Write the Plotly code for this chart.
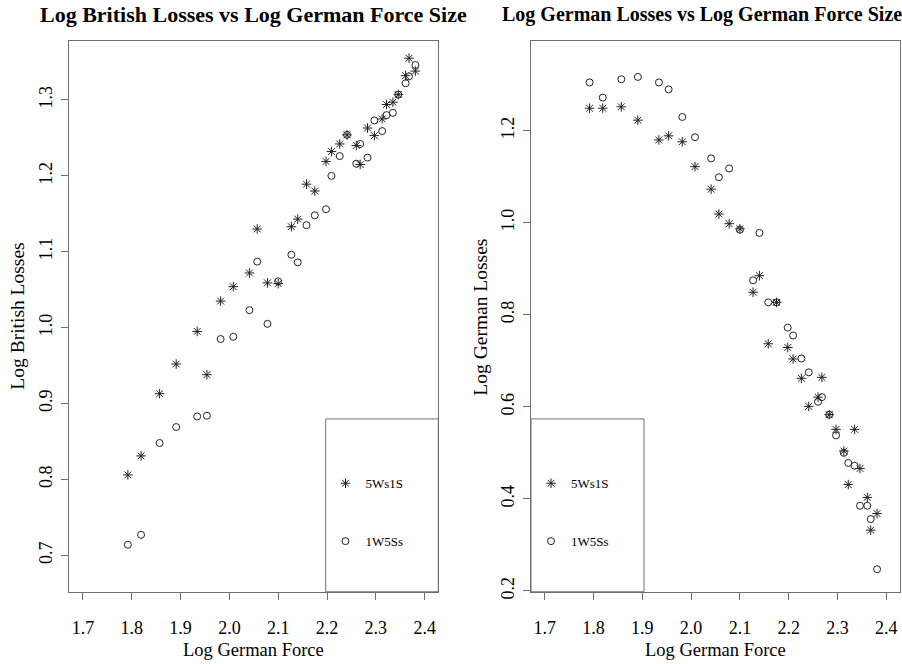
import plotly.graph_objects as go

# ---- data ----
german_force = [1.792, 1.819, 1.857, 1.891, 1.934, 1.954, 1.982, 2.008, 2.041, 2.057,
                2.078, 2.100, 2.127, 2.140, 2.158, 2.175, 2.198, 2.209, 2.226, 2.241,
                2.260, 2.268, 2.283, 2.297, 2.313, 2.322, 2.335, 2.346, 2.361, 2.368, 2.381]

british_5ws1s = [0.806, 0.831, 0.913, 0.952, 0.995, 0.938, 1.035, 1.054, 1.072, 1.130,
                 1.059, 1.058, 1.133, 1.143, 1.189, 1.180, 1.219, 1.232, 1.242, 1.254,
                 1.240, 1.215, 1.263, 1.253, 1.275, 1.294, 1.297, 1.307, 1.332, 1.355, 1.338]
british_1w5ss = [0.714, 0.727, 0.848, 0.869, 0.883, 0.884, 0.985, 0.988, 1.023, 1.087,
                 1.005, 1.061, 1.096, 1.086, 1.135, 1.148, 1.156, 1.200, 1.226, 1.254,
                 1.216, 1.242, 1.224, 1.273, 1.259, 1.280, 1.283, 1.307, 1.322, 1.331, 1.346]

german_5ws1s = [1.249, 1.249, 1.252, 1.223, 1.180, 1.189, 1.176, 1.122, 1.073, 1.019,
                0.998, 0.987, 0.849, 0.885, 0.737, 0.827, 0.729, 0.704, 0.662, 0.601,
                0.621, 0.664, 0.583, 0.551, 0.504, 0.431, 0.551, 0.466, 0.403, 0.332, 0.368]
german_1w5ss = [1.305, 1.272, 1.312, 1.317, 1.305, 1.290, 1.230, 1.186, 1.140, 1.099,
                1.118, 0.985, 0.875, 0.978, 0.827, 0.827, 0.772, 0.755, 0.705, 0.675,
                0.611, 0.621, 0.583, 0.538, 0.500, 0.478, 0.472, 0.385, 0.385, 0.356, 0.247]

series_names = ["5Ws1S", "1W5Ss"]
x_ticks = [1.7, 1.8, 1.9, 2.0, 2.1, 2.2, 2.3, 2.4]
y1_ticks = [0.7, 0.8, 0.9, 1.0, 1.1, 1.2, 1.3]
y2_ticks = [0.2, 0.4, 0.6, 0.8, 1.0, 1.2]

titles = ["Log British Losses vs Log German Force Size",
          "Log German Losses vs Log German Force Size"]
x_label = "Log German Force"
y_labels = ["Log British Losses", "Log German Losses"]

# ---- layout constants ----
W, H = 902, 664
FONT = "Liberation Serif, Times New Roman, serif"
FRAME = "#707070"
MARK = "#222222"

def px_x(p):
    return p / W

def px_y(p):
    return 1 - p / H

fig = go.Figure()

star = dict(symbol="asterisk-open", size=8, color=MARK, line=dict(color=MARK, width=1))
circ = dict(symbol="circle-open", size=7, color=MARK, line=dict(color=MARK, width=1))

fig.add_trace(go.Scatter(x=german_force, y=british_5ws1s, mode="markers", marker=star,
                         name=series_names[0], xaxis="x", yaxis="y", legend="legend",
                         legendgroup="a"))
fig.add_trace(go.Scatter(x=german_force, y=british_1w5ss, mode="markers", marker=circ,
                         name=series_names[1], xaxis="x", yaxis="y", legend="legend",
                         legendgroup="b"))
fig.add_trace(go.Scatter(x=german_force, y=german_5ws1s, mode="markers", marker=star,
                         name=series_names[0], xaxis="x2", yaxis="y2", legend="legend2",
                         legendgroup="c"))
fig.add_trace(go.Scatter(x=german_force, y=german_1w5ss, mode="markers", marker=circ,
                         name=series_names[1], xaxis="x2", yaxis="y2", legend="legend2",
                         legendgroup="d"))

axis_common = dict(showline=True, mirror=True, linecolor=FRAME, linewidth=1,
                   ticks="outside", ticklen=7, tickcolor=FRAME, tickwidth=1,
                   showgrid=False, zeroline=False, tickformat=".1f",
                   tickfont=dict(family=FONT, size=18, color="black"))

ydom = [px_y(599), px_y(42)]
leg_common = dict(xanchor="left", yanchor="top", bgcolor="rgba(0,0,0,0)", borderwidth=0,
                  tracegroupgap=38, traceorder="grouped",
                  font=dict(family=FONT, size=13, color="black"))
fig.update_layout(
    width=W, height=H,
    margin=dict(l=0, r=0, t=0, b=0),
    paper_bgcolor="white", plot_bgcolor="white",
    font=dict(family=FONT, color="black"),
    xaxis=dict(domain=[px_x(69.3), px_x(438.3)], range=[1.672, 2.428],
               tickvals=x_ticks, anchor="y", ticklabelstandoff=13, **axis_common),
    yaxis=dict(domain=ydom, range=[0.652, 1.377], tickvals=y1_ticks,
               tickangle=-90, anchor="x", ticklabelstandoff=2, **axis_common),
    xaxis2=dict(domain=[px_x(531), px_x(900)], range=[1.672, 2.428],
                tickvals=x_ticks, anchor="y2", ticklabelstandoff=13, **axis_common),
    yaxis2=dict(domain=ydom, range=[0.198, 1.394], tickvals=y2_ticks,
                tickangle=-90, anchor="x2", ticklabelstandoff=2, **axis_common),
    legend=dict(x=px_x(325.5), y=px_y(474), **leg_common),
    legend2=dict(x=px_x(531), y=px_y(474), **leg_common),
    showlegend=True,
)

# legend boxes
fig.add_shape(type="rect", xref="paper", yref="paper",
              x0=px_x(325.7), x1=px_x(438.3), y0=px_y(599), y1=px_y(424),
              line=dict(color=FRAME, width=1))
fig.add_shape(type="rect", xref="paper", yref="paper",
              x0=px_x(531), x1=px_x(644), y0=px_y(599), y1=px_y(424),
              line=dict(color=FRAME, width=1))

# titles and axis labels
centers = [(69.3 + 438.3) / 2, (531 + 900) / 2]
title_centers = [253.5, 702]
title_sizes = [22, 20]
ylab_x = [18, 481]
for i in range(2):
    fig.add_annotation(text="<b>%s</b>" % titles[i], xref="paper", yref="paper",
                       x=px_x(title_centers[i]), y=px_y(15), showarrow=False,
                       xanchor="center", yanchor="middle",
                       font=dict(family=FONT, size=title_sizes[i], color="black"))
    fig.add_annotation(text=x_label, xref="paper", yref="paper",
                       x=px_x(centers[i]), y=px_y(658), showarrow=False,
                       xanchor="center", yanchor="middle",
                       font=dict(family=FONT, size=18.5, color="black"))
    fig.add_annotation(text=y_labels[i], xref="paper", yref="paper", textangle=-90,
                       x=px_x(ylab_x[i]), y=px_y(320.5), showarrow=False,
                       xanchor="center", yanchor="middle",
                       font=dict(family=FONT, size=19.5, color="black"))

fig.write_html("out.html", config={"displayModeBar": False},
               post_script="document.body.style.margin='0';")
